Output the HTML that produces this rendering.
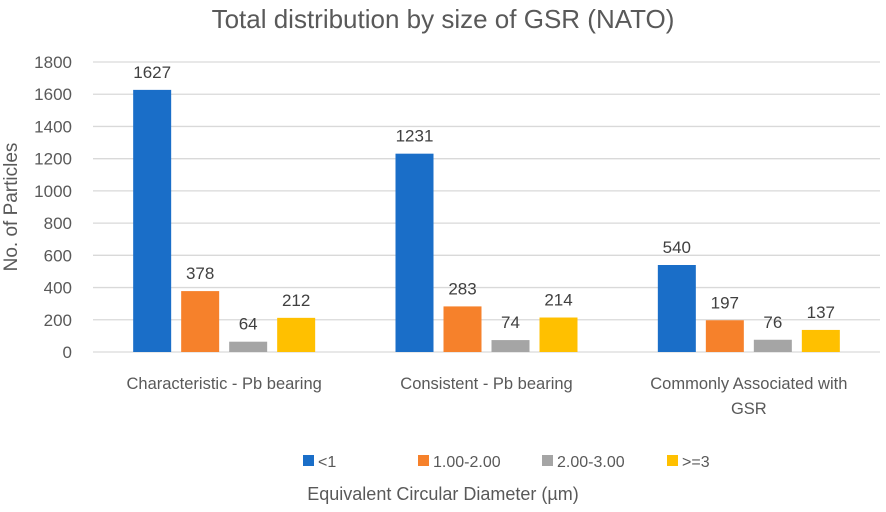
<!DOCTYPE html>
<html><head><meta charset="utf-8"><style>
body{margin:0;background:#fff;width:886px;height:507px;overflow:hidden;font-family:"Liberation Sans",sans-serif}
</style></head><body>
<svg id="chart" width="886" height="507" xmlns="http://www.w3.org/2000/svg" font-family="Liberation Sans, sans-serif">
<text x="443" y="28" text-anchor="middle" font-size="26" fill="#595959">Total distribution by size of GSR (NATO)</text>
<text transform="translate(17,207) rotate(-90)" text-anchor="middle" font-size="19" fill="#595959">No. of Particles</text>
<text x="443" y="500" text-anchor="middle" font-size="18" fill="#595959">Equivalent Circular Diameter (µm)</text>
<g id="grid"></g><g id="bars"></g><g id="legend"></g>
</svg>
<script>
const categories=[["Characteristic - Pb bearing"],["Consistent - Pb bearing"],["Commonly Associated with","GSR"]];
const seriesNames=["<1","1.00-2.00","2.00-3.00",">=3"];
const s1=[1627,1231,540];
const s2=[378,283,197];
const s3=[64,74,76];
const s4=[212,214,137];
const yTicks=[0,200,400,600,800,1000,1200,1400,1600,1800];
const series=[s1,s2,s3,s4];
const colors=["#1a6ec8","#f6812b","#a5a5a5","#ffc000"];
const NS="http://www.w3.org/2000/svg";
const x0=93,x1=880,y0=352,yTop=62,yMax=1800;
const y=v=>y0-(v/yMax)*(y0-yTop);
const gw=(x1-x0)/categories.length;
function mk(t,a,p){const e=document.createElementNS(NS,t);for(const k in a)e.setAttribute(k,a[k]);p.appendChild(e);return e;}
const grid=document.getElementById('grid'),bars=document.getElementById('bars'),leg=document.getElementById('legend');
yTicks.forEach(t=>{
 const l=mk('line',{x1:x0,x2:x1,y1:y(t),y2:y(t),stroke:'#d9d9d9','stroke-width':1.3},grid);
 
 
 const tx=mk('text',{x:72,y:y(t)+6,'text-anchor':'end','font-size':17,fill:'#595959'},grid);
 tx.textContent=t;
 
 
});
categories.forEach((c,i)=>{
 const cx=x0+gw*(i+0.5);
 series.forEach((s,j)=>{
  const bx=cx-91+j*48;
  const r=mk('rect',{x:bx,y:y(s[i]),width:38,height:y0-y(s[i]),fill:colors[j]},bars);
  
  
  const t=mk('text',{x:bx+19,y:y(s[i])-12,'text-anchor':'middle','font-size':17,fill:'#404040'},bars);
  t.textContent=s[i];
  
  
 });
 c.forEach((line,k)=>{
  const t=mk('text',{x:cx,y:389+k*25,'text-anchor':'middle','font-size':16.5,fill:'#595959'},bars);
  t.textContent=line;
  
  
 });
});
const lx=[303,418,542,667];
seriesNames.forEach((n,j)=>{
 const r=mk('rect',{x:lx[j],y:455,width:11,height:11,fill:colors[j]},leg);
 
 
 const t=mk('text',{x:lx[j]+15,y:467,'font-size':16,fill:'#595959'},leg);
 t.textContent=n;
 
 
});
</script>
</body></html>
